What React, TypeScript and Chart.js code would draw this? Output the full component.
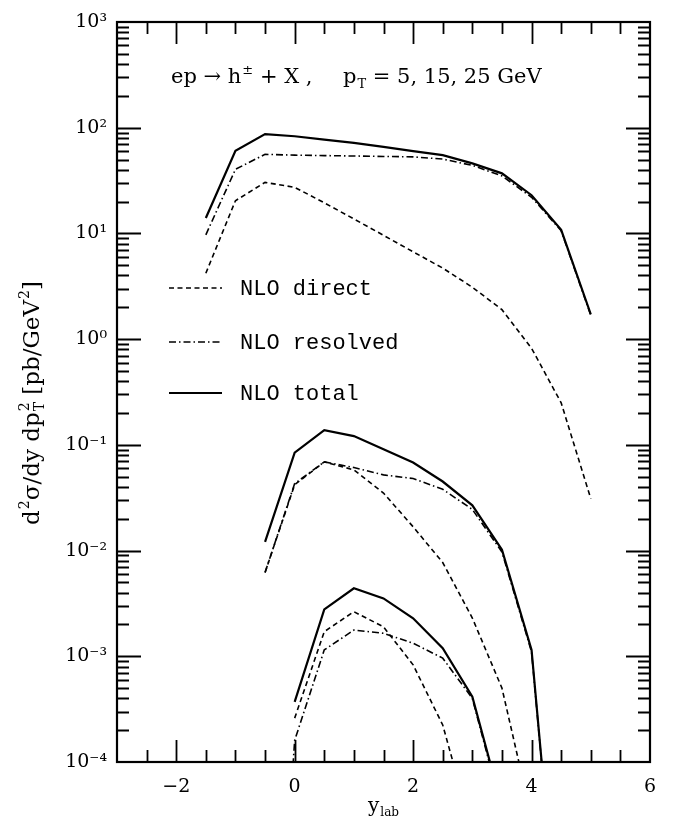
import React, { useEffect, useRef } from 'react';
import { Chart, registerables } from 'chart.js';

Chart.register(...registerables);

// ---------- data ----------
// rapidity points (y_lab) for each pT group
const yLabPt5 = [-1.5, -1, -0.5, 0, 0.5, 1, 1.5, 2, 2.5, 3, 3.5, 4, 4.5, 5];
const directPt5 = [4.2, 20.4, 30.4, 27.3, 19.5, 13.7, 9.6, 6.7, 4.7, 3.1, 1.9, 0.82, 0.25, 0.031];
const resolvedPt5 = [9.7, 40.4, 56, 55, 54.5, 54, 53.5, 53, 50.5, 44, 35, 22, 10.6, 1.68];
const totalPt5 = [14, 60.6, 87, 83, 77, 72, 66, 60, 55, 46, 37, 23, 10.8, 1.72];

const yLabPt15Direct = [-0.5, 0, 0.5, 1, 1.5, 2, 2.5, 3, 3.5, 4];
const directPt15 = [0.0062, 0.042, 0.069, 0.058, 0.035, 0.0168, 0.0077, 0.0023, 0.0005, 0.00003];
const yLabPt15 = [-0.5, 0, 0.5, 1, 1.5, 2, 2.5, 3, 3.5, 4, 4.5];
const resolvedPt15 = [0.0062, 0.043, 0.069, 0.061, 0.052, 0.048, 0.038, 0.0245, 0.0097, 0.0011, 0.0000009];
const totalPt15 = [0.0121, 0.0843, 0.138, 0.121, 0.091, 0.068, 0.045, 0.0268, 0.0102, 0.00115, 0.0000009];

const yLabPt25Direct = [0, 0.5, 1, 1.5, 2, 2.5, 3];
const directPt25 = [0.00026, 0.00171, 0.00264, 0.0019, 0.00083, 0.000224, 0.000022];
const yLabPt25Resolved = [-0.5, 0, 0.5, 1, 1.5, 2, 2.5, 3, 3.5];
const resolvedPt25 = [0.00000001, 0.00016, 0.00115, 0.00177, 0.00165, 0.00133, 0.00096, 0.0004, 0.000035];
const yLabPt25Total = [0, 0.5, 1, 1.5, 2, 2.5, 3, 3.5];
const totalPt25 = [0.00037, 0.00278, 0.0044, 0.00353, 0.00229, 0.00119, 0.000415, 0.000038];

const xTickValues = [-2, 0, 2, 4, 6];
const yDecadeExponents = [-4, -3, -2, -1, 0, 1, 2, 3];
const legendLabels = ['NLO direct', 'NLO resolved', 'NLO total'];

// ---------- styles ----------
const DASH_DIRECT = [5, 3.5];
const DASH_RESOLVED = [7, 3, 1.5, 3];
const DASH_TOTAL: number[] = [];
const legendDashes = [DASH_DIRECT, DASH_RESOLVED, DASH_TOTAL];
const legendWidths = [1.6, 1.6, 2.2];
const SERIF = "'DejaVu Serif', serif";

const SUP: Record<string, string> = { '-': '\u207B', '0': '\u2070', '1': '\u00B9', '2': '\u00B2', '3': '\u00B3', '4': '\u2074', '5': '\u2075' };
const supStr = (s: string) => s.split('').map((c) => SUP[c] || c).join('');

const pts = (xs: number[], ys: number[]) => xs.map((x, i) => ({ x, y: ys[i] }));

type Part = [string, 'n' | 'sup' | 'sub' | 'supsub'];

function richWidth(ctx: CanvasRenderingContext2D, parts: Part[], size: number) {
  let w = 0;
  for (const [t, k] of parts) {
    if (k === 'n') {
      ctx.font = `${size}px ${SERIF}`;
      w += ctx.measureText(t).width;
    } else if (k === 'supsub') {
      ctx.font = `${Math.round(size * 0.62)}px ${SERIF}`;
      const [a, b] = t.split('|');
      w += Math.max(ctx.measureText(a).width, ctx.measureText(b).width) + 1;
    } else {
      ctx.font = `${Math.round(size * 0.62)}px ${SERIF}`;
      w += ctx.measureText(t).width + 1;
    }
  }
  return w;
}

function drawRich(ctx: CanvasRenderingContext2D, x: number, y: number, parts: Part[], size: number) {
  let cx = x;
  ctx.textBaseline = 'alphabetic';
  ctx.textAlign = 'left';
  for (const [t, k] of parts) {
    if (k === 'n') {
      ctx.font = `${size}px ${SERIF}`;
      ctx.fillText(t, cx, y);
      cx += ctx.measureText(t).width;
    } else if (k === 'sup') {
      ctx.font = `${Math.round(size * 0.62)}px ${SERIF}`;
      ctx.fillText(t, cx + 1, y - size * 0.45);
      cx += ctx.measureText(t).width + 1;
    } else if (k === 'sub') {
      ctx.font = `${Math.round(size * 0.62)}px ${SERIF}`;
      ctx.fillText(t, cx + 1, y + size * 0.22);
      cx += ctx.measureText(t).width + 1;
    } else {
      ctx.font = `${Math.round(size * 0.62)}px ${SERIF}`;
      const [a, b] = t.split('|');
      ctx.fillText(a, cx + 1, y - size * 0.45);
      ctx.fillText(b, cx + 1, y + size * 0.22);
      cx += Math.max(ctx.measureText(a).width, ctx.measureText(b).width) + 1;
    }
  }
  return cx;
}

const decorPlugin = {
  id: 'decor',
  afterDraw(chart: any) {
    const { ctx, chartArea: ca } = chart;
    const xs = chart.scales.x;
    const ys = chart.scales.y;
    ctx.save();
    ctx.strokeStyle = '#000';
    ctx.fillStyle = '#000';
    ctx.setLineDash([]);
    // frame
    ctx.lineWidth = 2.2;
    ctx.strokeRect(ca.left, ca.top, ca.right - ca.left, ca.bottom - ca.top);
    // x ticks (inward, bottom and top)
    ctx.lineWidth = 1.8;
    for (let v = -2.5; v < 6; v += 0.5) {
      const px = Math.round(xs.getPixelForValue(v)) + 0.5;
      const len = Math.abs(v % 2) < 1e-9 ? 22 : 12;
      ctx.beginPath();
      ctx.moveTo(px, ca.bottom);
      ctx.lineTo(px, ca.bottom - len);
      ctx.moveTo(px, ca.top);
      ctx.lineTo(px, ca.top + len);
      ctx.stroke();
    }
    // y ticks (inward, left and right)
    for (let d = -4; d <= 2; d++) {
      for (let m = 1; m <= 9; m++) {
        if (d === -4 && m === 1) continue;
        const py = Math.round(ys.getPixelForValue(m * Math.pow(10, d))) + 0.5;
        const len = m === 1 ? 24 : 12;
        ctx.beginPath();
        ctx.moveTo(ca.left, py);
        ctx.lineTo(ca.left + len, py);
        ctx.moveTo(ca.right, py);
        ctx.lineTo(ca.right - len, py);
        ctx.stroke();
      }
    }
    // legend
    const legendY = [288, 342, 393];
    for (let i = 0; i < legendLabels.length; i++) {
      ctx.lineWidth = legendWidths[i];
      ctx.setLineDash(legendDashes[i]);
      ctx.beginPath();
      ctx.moveTo(169, legendY[i]);
      ctx.lineTo(222, legendY[i]);
      ctx.stroke();
      ctx.setLineDash([]);
      ctx.font = "22px 'Liberation Mono', monospace";
      ctx.textBaseline = 'middle';
      ctx.textAlign = 'left';
      ctx.fillText(legendLabels[i], 240, legendY[i] + 1);
    }
    // process title
    drawRich(ctx, 171, 83, [['ep \u2192 h', 'n'], ['\u00B1', 'sup'], [' + X ,', 'n']], 21);
    drawRich(ctx, 343, 83, [['p', 'n'], ['T', 'sub'], [' = 5, 15, 25 GeV', 'n']], 21);
    // x-axis title
    const xParts: Part[] = [['y', 'n'], ['lab', 'sub']];
    const xw = richWidth(ctx, xParts, 20);
    drawRich(ctx, (ca.left + ca.right) / 2 - xw / 2, 812, xParts, 20);
    // y-axis title
    const yParts: Part[] = [
      ['d', 'n'], ['2', 'sup'], ['\u03C3/dy dp', 'n'], ['2|T', 'supsub'],
      [' [pb/GeV', 'n'], ['2', 'sup'], [']', 'n'],
    ];
    ctx.save();
    ctx.translate(39, 403);
    ctx.rotate(-Math.PI / 2);
    const yw = richWidth(ctx, yParts, 23);
    drawRich(ctx, -yw / 2, 0, yParts, 23);
    ctx.restore();
    ctx.restore();
  },
};

function line(data: { x: number; y: number }[], dash: number[], width: number, label: string) {
  return {
    label,
    data,
    borderColor: '#000',
    backgroundColor: '#000',
    borderWidth: width,
    borderDash: dash,
    pointRadius: 0,
    tension: 0,
    fill: false,
  };
}

export default function App() {
  const ref = useRef<HTMLCanvasElement | null>(null);
  useEffect(() => {
    if (!ref.current) return;
    const chart = new Chart(ref.current, {
      type: 'line',
      data: {
        datasets: [
          line(pts(yLabPt5, directPt5), DASH_DIRECT, 1.6, 'NLO direct'),
          line(pts(yLabPt5, resolvedPt5), DASH_RESOLVED, 1.6, 'NLO resolved'),
          line(pts(yLabPt5, totalPt5), DASH_TOTAL, 2.2, 'NLO total'),
          line(pts(yLabPt15Direct, directPt15), DASH_DIRECT, 1.6, 'NLO direct'),
          line(pts(yLabPt15, resolvedPt15), DASH_RESOLVED, 1.6, 'NLO resolved'),
          line(pts(yLabPt15, totalPt15), DASH_TOTAL, 2.2, 'NLO total'),
          line(pts(yLabPt25Direct, directPt25), DASH_DIRECT, 1.6, 'NLO direct'),
          line(pts(yLabPt25Resolved, resolvedPt25), DASH_RESOLVED, 1.6, 'NLO resolved'),
          line(pts(yLabPt25Total, totalPt25), DASH_TOTAL, 2.2, 'NLO total'),
        ],
      },
      options: {
        responsive: false,
        animation: false,
        devicePixelRatio: 1,
        layout: { padding: { left: 0, top: 22, right: 30, bottom: 0 } },
        plugins: { legend: { display: false }, tooltip: { enabled: false }, title: { display: false } },
        scales: {
          x: {
            type: 'linear',
            min: -3,
            max: 6,
            grid: { display: false, drawTicks: false },
            border: { display: false },
            afterBuildTicks: (s: any) => { s.ticks = xTickValues.map((v) => ({ value: v })); },
            afterFit: (s: any) => { s.height = 61; },
            ticks: {
              autoSkip: false,
              maxRotation: 0,
              padding: 14,
              color: '#000',
              font: { family: SERIF, size: 19 },
              callback: (v: any) => (Number(v) < 0 ? '\u2212' + Math.abs(Number(v)) : String(v)),
            },
          },
          y: {
            type: 'logarithmic',
            min: 1e-4,
            max: 1e3,
            grid: { display: false, drawTicks: false },
            border: { display: false },
            afterBuildTicks: (s: any) => { s.ticks = yDecadeExponents.map((e) => ({ value: Math.pow(10, e) })); },
            afterFit: (s: any) => { s.width = 117; },
            ticks: {
              autoSkip: false,
              padding: 10,
              color: '#000',
              font: { family: SERIF, size: 19 },
              callback: (v: any) => '10' + supStr(String(Math.round(Math.log10(Number(v))))),
            },
          },
        },
      },
      plugins: [decorPlugin],
    } as any);
    return () => chart.destroy();
  }, []);
  return (
    <div style={{ position: 'fixed', left: 0, top: 0, width: 680, height: 823, background: '#fff' }}>
      <canvas ref={ref} width={680} height={823} style={{ width: 680, height: 823, display: 'block' }} />
    </div>
  );
}
